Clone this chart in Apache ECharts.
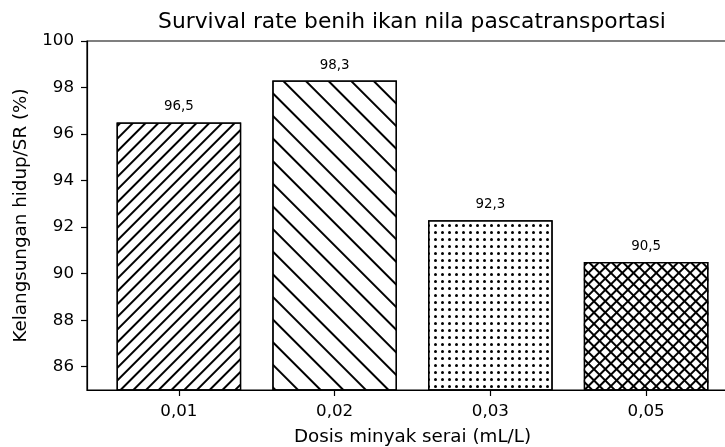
<!DOCTYPE html>
<html>
<head>
<meta charset="utf-8">
<script src="https://cdn.jsdelivr.net/npm/echarts@6/dist/echarts.min.js"></script>
<style>
html,body{margin:0;padding:0;background:#fff;}
#chart{width:725px;height:447px;}
</style>
</head>
<body>
<div id="chart"></div>
<script>
// ---- data ----
const categories = ['0,01', '0,02', '0,03', '0,05'];
const values = [96.5, 98.3, 92.3, 90.5];
const yTicks = [86, 88, 90, 92, 94, 96, 98, 100];
const titleText = 'Survival rate benih ikan nila pascatransportasi';
const xName = 'Dosis minyak serai (mL/L)';
const yName = 'Kelangsungan hidup/SR (%)';

const FONT = 'DejaVu Sans';
const INK = '#000';

const decals = [
  { symbol: 'rect', color: '#000', dashArrayX: [1, 0], dashArrayY: [1.4, 6.3], symbolSize: 1, rotation: -Math.PI / 4 },
  { symbol: 'rect', color: '#000', dashArrayX: [1, 0], dashArrayY: [1.4, 14], symbolSize: 1, rotation: Math.PI / 4 },
  { symbol: 'circle', color: '#000', dashArrayX: [2.4, 3.4], dashArrayY: [2.4, 3.1], symbolSize: 1 },
  { symbol: 'rect', color: '#000', dashArrayX: [1, 0], dashArrayY: [1.4, 5.2], symbolSize: 1, rotation: -Math.PI / 4 }
];
const crossDecal = { symbol: 'rect', color: '#000', dashArrayX: [1, 0], dashArrayY: [1.4, 5.2], symbolSize: 1, rotation: Math.PI / 4 };

const chart = echarts.init(document.getElementById('chart'), null, { renderer: 'canvas' });
const idx = categories.map((c, i) => i);

chart.setOption({
  animation: false,
  backgroundColor: '#fff',
  textStyle: { fontFamily: FONT },
  title: {
    text: titleText,
    left: 407, top: 6, textAlign: 'center',
    textStyle: { fontFamily: FONT, fontSize: 21.8, fontWeight: 'normal', color: INK }
  },
  grid: {
    left: 87, width: 651, top: 41, height: 349,
    outerBoundsMode: 'none', containLabel: false,
    show: true, borderColor: '#000', borderWidth: 1.2, backgroundColor: 'transparent'
  },
  xAxis: {
    type: 'value', min: -0.59, max: 3.59,
    splitLine: { show: false },
    axisLine: { show: true, onZero: false, lineStyle: { color: '#000', width: 1.2 } },
    axisTick: { show: true, length: 6, customValues: idx, lineStyle: { color: '#000', width: 1.2 } },
    axisLabel: {
      customValues: idx, margin: 13,
      fontFamily: FONT, fontSize: 16.7, color: INK,
      formatter: v => categories[Math.round(v)]
    },
    name: xName, nameLocation: 'middle', nameGap: 38,
    nameTextStyle: { fontFamily: FONT, fontSize: 18.3, color: INK }
  },
  yAxis: {
    type: 'value', min: 85, max: 100,
    splitLine: { show: false },
    axisLine: { show: true, onZero: false, lineStyle: { color: '#000', width: 1.2 } },
    axisTick: { show: true, length: 6, customValues: yTicks, lineStyle: { color: '#000', width: 1.2 } },
    axisLabel: {
      customValues: yTicks, margin: 13,
      fontFamily: FONT, fontSize: 16.7, color: INK
    },
    name: yName, nameLocation: 'middle', nameGap: 57, nameRotate: 90,
    nameTextStyle: { fontFamily: FONT, fontSize: 18.3, color: INK }
  },
  series: [
    {
      type: 'bar',
      barWidth: 124.6,
      barGap: '-100%',
      data: values.map((v, i) => ({ value: [i, v], itemStyle: { decal: decals[i] } })),
      itemStyle: { color: '#fff', borderColor: '#000', borderWidth: 1.3 },
      label: {
        show: true, position: 'top', distance: 9,
        fontFamily: FONT, fontSize: 13.4, color: INK,
        formatter: p => String(p.value[1]).replace('.', ',')
      }
    },
    {
      type: 'bar',
      barWidth: 124.6,
      barGap: '-100%',
      silent: true,
      z: 3,
      data: [{ value: [3, values[3]], itemStyle: { decal: crossDecal } }],
      itemStyle: { color: 'rgba(0,0,0,0)', borderWidth: 0 }
    }
  ]
});
</script>
</body>
</html>
